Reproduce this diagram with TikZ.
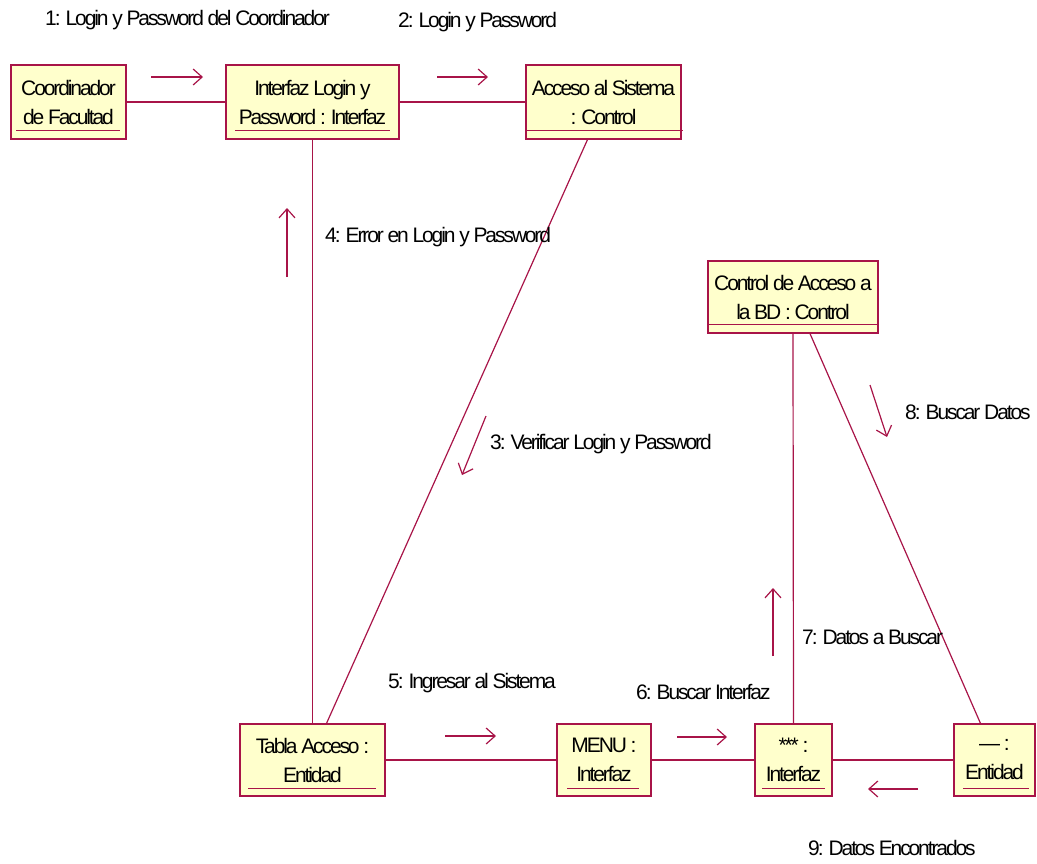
\documentclass[tikz,border=0pt]{standalone}
\usepackage{fontspec}
\setmainfont{Liberation Sans}[LetterSpace=-10]
\usetikzlibrary{arrows.meta,calc}
\definecolor{umlline}{RGB}{168,20,72}
\definecolor{umlfill}{RGB}{255,255,204}
\begin{document}
\begin{tikzpicture}[x=1pt,y=-1pt,
  font=\fontsize{21}{29}\selectfont,
  objbox/.style={draw=umlline,fill=umlfill,line width=1.2pt,inner sep=0pt,
    align=center},
  link/.style={draw=umlline,line width=1.2pt},
  msg/.style={draw=umlline,line width=1.2pt,-{Straight Barb[length=9pt,width=16pt,line width=1.2pt]}},
  lbl/.style={anchor=west,inner sep=0pt}]
\useasboundingbox (0,0) rectangle (1037,863);

% objects
\node[objbox,minimum width=115pt,minimum height=74pt] (coord) at (68.5,102) {Coordinador\\de Facultad};
\node[objbox,minimum width=173pt,minimum height=74pt] (login) at (312.5,102) {Interfaz Login y\\Password : Interfaz};
\node[objbox,minimum width=155pt,minimum height=74pt] (acceso) at (603.5,102) {Acceso al Sistema\\: Control};
\node[objbox,minimum width=170pt,minimum height=72pt] (ctrlbd) at (793,297) {Control de Acceso a\\la BD : Control};
\node[objbox,minimum width=145pt,minimum height=72pt] (tabla) at (312.5,760) {Tabla Acceso :\\Entidad};
\node[objbox,minimum width=94pt,minimum height=72pt] (menu) at (604,760) {MENU :\\Interfaz};
\node[objbox,minimum width=77pt,minimum height=72pt] (ast) at (793.5,760) {*** :\\Interfaz};
\node[objbox,minimum width=81pt,minimum height=72pt] (ent) at (994.5,760) {--- :\\Entidad};

% name underlines
\draw[link] ($(coord.south west)+(6,-9)$) -- ($(coord.south east)+(-7,-9)$);
\draw[link] ($(login.south west)+(10,-9)$) -- ($(login.south east)+(-10,-9)$);
\draw[link] ($(acceso.south west)+(0,-9)$) -- ($(acceso.south east)+(1,-9)$);
\draw[link] ($(ctrlbd.south west)+(2,-9)$) -- ($(ctrlbd.south east)+(-1,-9)$);
\draw[link] ($(tabla.south west)+(9,-8)$) -- ($(tabla.south east)+(-10,-8)$);
\draw[link] ($(menu.south west)+(11,-8)$) -- ($(menu.south east)+(-13,-8)$);
\draw[link] ($(ast.south west)+(8,-8)$) -- ($(ast.south east)+(-8,-8)$);
\draw[link] ($(ent.south west)+(10,-8)$) -- ($(ent.south east)+(-7,-8)$);

% links
\draw[link] (coord.east) -- (login.west);
\draw[link] (login.east) -- (acceso.west);
\draw[link] (login.south) -- (tabla.north);
\draw[link] ($(acceso.south)+(-16,0)$) -- ($(tabla.north)+(14,0)$);
\draw[link] (tabla.east) -- (menu.west);
\draw[link] (menu.east) -- (ast.west);
\draw[link] (ast.east) -- (ent.west);
\draw[link] (ctrlbd.south) -- (ast.north);
\draw[link] ($(ctrlbd.south)+(17,0)$) -- ($(ent.north)+(-14,0)$);

% message arrows
\coordinate (m1a) at (151,77);  \coordinate (m1b) at (203,77);
\coordinate (m2a) at (437,77);  \coordinate (m2b) at (488,77);
\coordinate (m4a) at (287,277); \coordinate (m4b) at (287,208);
\coordinate (m3a) at (486,416); \coordinate (m3b) at (462,475);
\coordinate (m5a) at (445,736); \coordinate (m5b) at (496,736);
\coordinate (m6a) at (677,737); \coordinate (m6b) at (727,737);
\coordinate (m7a) at (773,656); \coordinate (m7b) at (773,588);
\coordinate (m8a) at (870,385); \coordinate (m8b) at (887,437);
\coordinate (m9a) at (918,789); \coordinate (m9b) at (868,789);
\foreach \i in {1,...,9} \draw[msg] (m\i a) -- (m\i b);

% message labels
\node[lbl] (l1) at (45,20) {1: Login y Password del Coordinador};
\node[lbl] (l2) at (398,22) {2: Login y Password};
\node[lbl] (l4) at (325,237) {4: Error en Login y Password};
\node[lbl] (l3) at (490,444) {3: Verificar Login y Password};
\node[lbl] (l5) at (388,683) {5: Ingresar al Sistema};
\node[lbl] (l6) at (636,692) {6: Buscar Interfaz};
\node[lbl] (l7) at (802,637) {7: Datos a Buscar};
\node[lbl] (l8) at (905,412) {8: Buscar Datos};
\node[lbl] (l9) at (808,848) {9: Datos Encontrados};
\end{tikzpicture}
\end{document}
